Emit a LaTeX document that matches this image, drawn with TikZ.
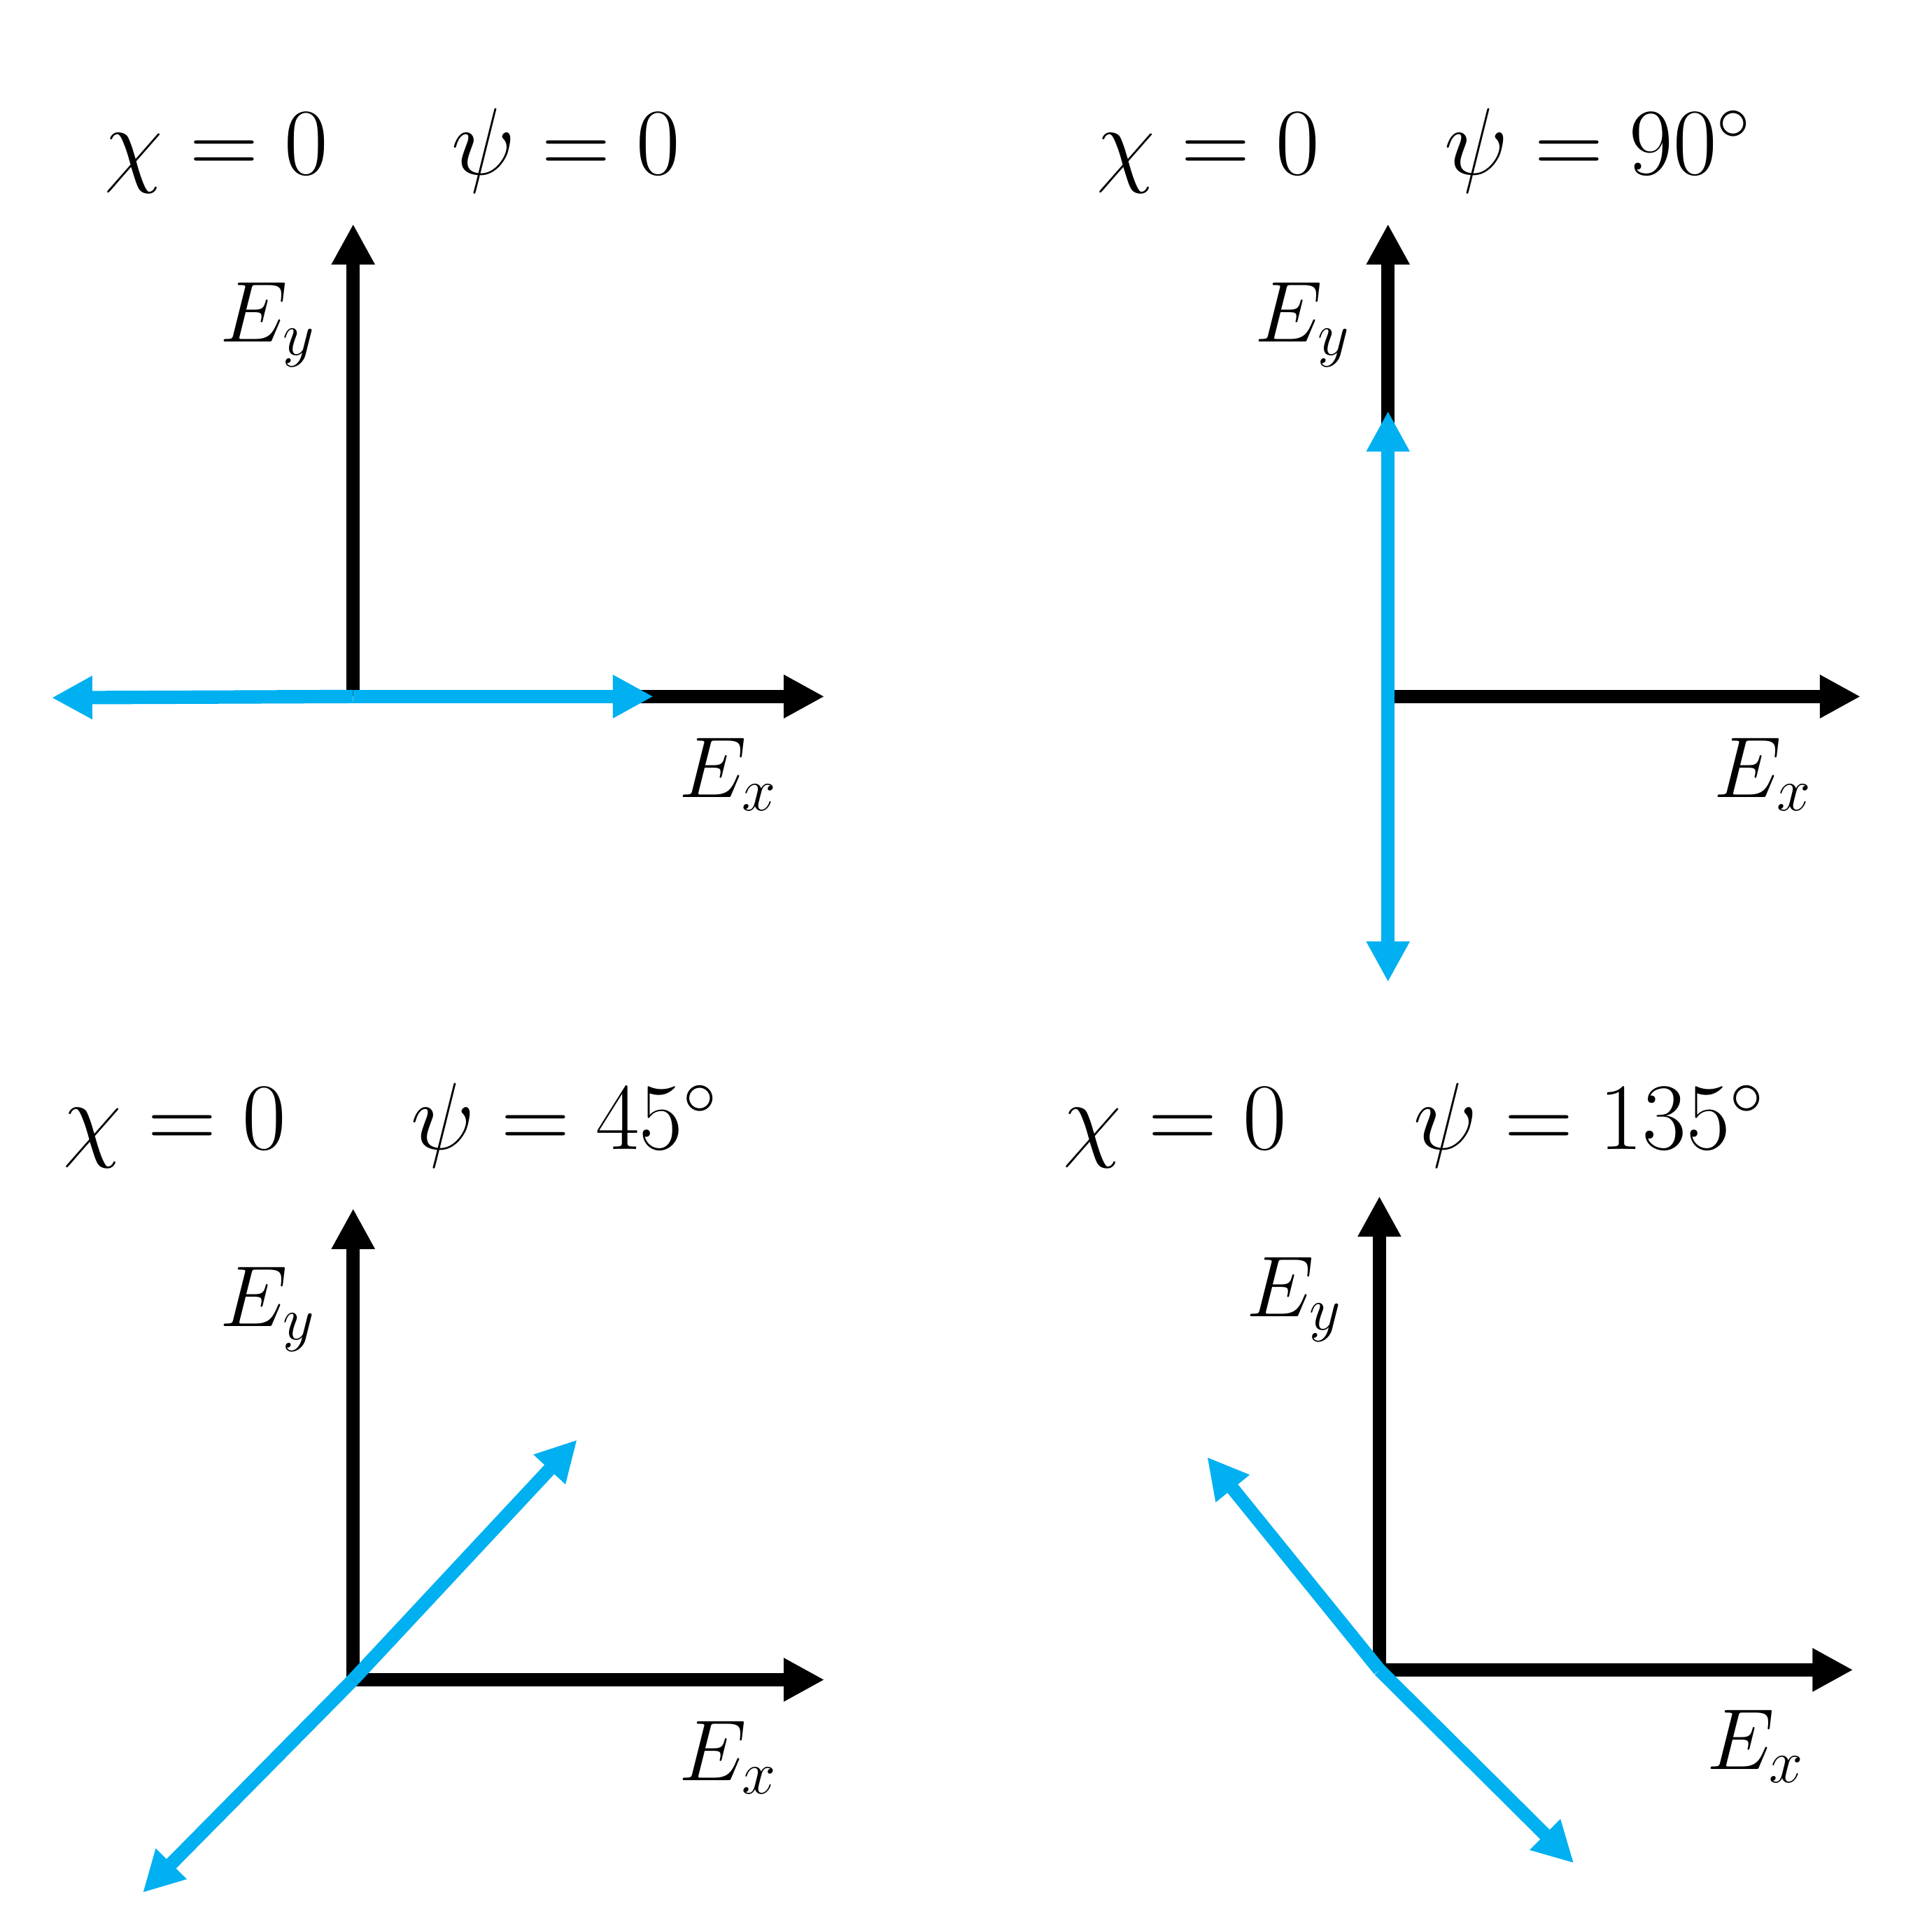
\documentclass[tikz,border=0pt]{standalone}
\usepackage{fix-cm}
\usetikzlibrary{arrows.meta}
\definecolor{polblue}{RGB}{0,176,240}
\begin{document}
\begin{tikzpicture}[
  axis/.style={black,line width=3.1pt,-{Triangle[length=0.33cm,width=0.33cm]}},
  pol/.style={polblue,line width=3.1pt,-{Triangle[length=0.33cm,width=0.33cm]}},
  lbl/.style={anchor=base,inner sep=0pt,font=\fontsize{22}{26}\selectfont},
  axlbl/.style={lbl,font=\fontsize{20}{24}\selectfont}]
  \useasboundingbox (0,0) rectangle (15.6,-15.70);
  % psi = 0
  \coordinate (oA) at (2.87,-5.66);
  \coordinate (yA) at (2.87,-1.82);
  \coordinate (xA) at (6.70,-5.66);
  \coordinate (pA1) at (0.42,-5.67);
  \coordinate (pA2) at (5.31,-5.66);
  \draw [axis] (oA) -- (yA);
  \draw [axis] (oA) -- (xA);
  \draw [pol] (oA) -- (pA1);
  \draw [pol] (oA) -- (pA2);
  \node [lbl] (chiA) at (1.76,-1.42) {$\chi = 0$};
  \node [lbl] (psiA) at (4.60,-1.42) {$\psi = 0$};
  \node [axlbl] (EyA) at (2.18,-2.78) {$E_y$};
  \node [axlbl] (ExA) at (5.92,-6.48) {$E_x$};
  % psi = 90
  \coordinate (oB) at (11.28,-5.66);
  \coordinate (yB) at (11.28,-1.82);
  \coordinate (xB) at (15.12,-5.66);
  \coordinate (pB1) at (11.28,-3.34);
  \coordinate (pB2) at (11.28,-7.98);
  \draw [axis] (oB) -- (yB);
  \draw [axis] (oB) -- (xB);
  \draw [pol] (oB) -- (pB1);
  \draw [pol] (oB) -- (pB2);
  \node [lbl] (chiB) at (9.82,-1.42) {$\chi = 0$};
  \node [lbl] (psiB) at (12.99,-1.42) {$\psi = 90^\circ$};
  \node [axlbl] (EyB) at (10.59,-2.78) {$E_y$};
  \node [axlbl] (ExB) at (14.33,-6.48) {$E_x$};
  % psi = 45
  \coordinate (oC) at (2.87,-13.65);
  \coordinate (yC) at (2.87,-9.82);
  \coordinate (xC) at (6.70,-13.65);
  \coordinate (pC1) at (1.16,-15.38);
  \coordinate (pC2) at (4.69,-11.70);
  \draw [axis] (oC) -- (yC);
  \draw [axis] (oC) -- (xC);
  \draw [pol] (oC) -- (pC1);
  \draw [pol] (oC) -- (pC2);
  \node [lbl] (chiC) at (1.42,-9.34) {$\chi = 0$};
  \node [lbl] (psiC) at (4.59,-9.34) {$\psi = 45^\circ$};
  \node [axlbl] (EyC) at (2.18,-10.78) {$E_y$};
  \node [axlbl] (ExC) at (5.92,-14.47) {$E_x$};
  % psi = 135
  \coordinate (oD) at (11.21,-13.57);
  \coordinate (yD) at (11.21,-9.72);
  \coordinate (xD) at (15.06,-13.57);
  \coordinate (pD1) at (9.81,-11.84);
  \coordinate (pD2) at (12.79,-15.14);
  \draw [axis] (oD) -- (yD);
  \draw [axis] (oD) -- (xD);
  \draw [pol] (oD) -- (pD1);
  \draw [pol] (oD) -- (pD2);
  \node [lbl] (chiD) at (9.55,-9.34) {$\chi = 0$};
  \node [lbl] (psiD) at (12.92,-9.34) {$\psi = 135^\circ$};
  \node [axlbl] (EyD) at (10.52,-10.70) {$E_y$};
  \node [axlbl] (ExD) at (14.27,-14.38) {$E_x$};
\end{tikzpicture}
\end{document}
